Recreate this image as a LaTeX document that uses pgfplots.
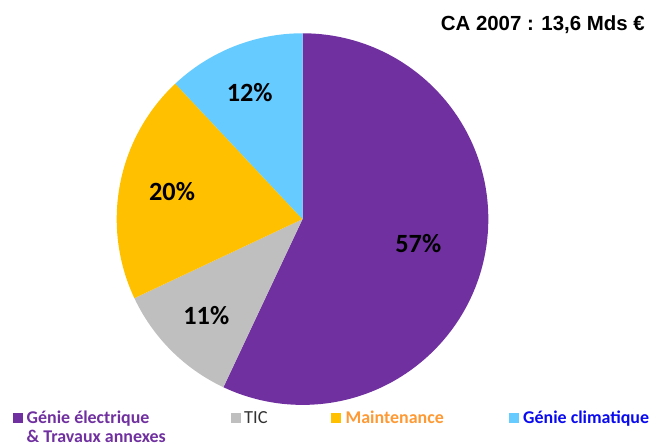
\documentclass[border=0pt]{standalone}
\usepackage{pgfplots}
\usepackage{pgfplotstable}
\pgfplotsset{compat=1.18}
\usepackage{fontspec}
\setmainfont{Carlito}
\newfontfamily\arialfont{Liberation Sans}
\definecolor{cElec}{HTML}{7030A0}
\definecolor{cTic}{HTML}{BFBFBF}
\definecolor{cMaint}{HTML}{FFC000}
\definecolor{cClim}{HTML}{66CCFF}
\definecolor{tMaint}{HTML}{FF9933}
\definecolor{tClim}{HTML}{0A0AF0}
\definecolor{tTic}{HTML}{333333}

\pgfplotstableread{
name value lx ly
elec 57 0.623 -0.131
tic 11 -0.518 -0.518
maint 20 -0.702 0.147
clim 12 -0.284 0.679
}\piedata

\begin{document}
\begin{tikzpicture}[x=1bp,y=1bp]
\useasboundingbox (0,0) rectangle (653,446);
\begin{axis}[hide axis, x=185.8bp, y=185.8bp, xmin=-1, xmax=1, ymin=-1, ymax=1,
  anchor=origin, at={(302.5bp,226.9bp)}, clip=false]
\pgfplotsextra{
  \xdef\cumul{0}
  \foreach \i/\col in {0/cElec,1/cTic,2/cMaint,3/cClim}{
    \pgfplotstablegetelem{\i}{value}\of\piedata \let\val\pgfplotsretval
    \pgfplotstablegetelem{\i}{lx}\of\piedata \let\lx\pgfplotsretval
    \pgfplotstablegetelem{\i}{ly}\of\piedata \let\ly\pgfplotsretval
    \pgfmathsetmacro\a{90-3.6*\cumul}
    \pgfmathsetmacro\b{90-3.6*(\cumul+\val)}
    \fill[\col] (axis cs:0,0) -- (axis cs:{cos(\a)},{sin(\a)}) arc[start angle=\a, end angle=\b, radius=185.8bp] -- cycle;
    \node[font=\bfseries\fontsize{26.4}{30}\selectfont, inner sep=0, text=black] at (axis cs:\lx,\ly) {\val\%};
    \pgfmathsetmacro\nc{\cumul+\val}
    \xdef\cumul{\nc}
  }
}
\end{axis}
% header
\node[anchor=base east, inner sep=0, font=\arialfont\bfseries\fontsize{20.5}{24}\selectfont] at (645,415) {CA 2007 : 13,6 Mds €};
% legend
\fill[cElec] (12.7,23.3) rectangle (22.7,33.3);
\node[anchor=base west, inner sep=0, text=cElec, font=\bfseries\fontsize{18}{20}\selectfont] at (26.5,22.9) {Génie électrique};
\node[anchor=base west, inner sep=0, text=cElec, font=\bfseries\fontsize{18}{20}\selectfont] at (26.5,3.6) {\& Travaux annexes};
\fill[cTic] (231,23) rectangle (241,33);
\node[anchor=base west, inner sep=0, text=tTic, font=\fontsize{18.5}{20}\selectfont] at (244,22.9) {TIC};
\fill[cMaint] (331,23) rectangle (341,33);
\node[anchor=base west, inner sep=0, text=tMaint, font=\bfseries\fontsize{18}{20}\selectfont] at (345.5,22.9) {Maintenance};
\fill[cClim] (509,23) rectangle (519,33);
\node[anchor=base west, inner sep=0, text=tClim, font=\bfseries\fontsize{18}{20}\selectfont] at (523,22.9) {Génie climatique};
\end{tikzpicture}
\end{document}
